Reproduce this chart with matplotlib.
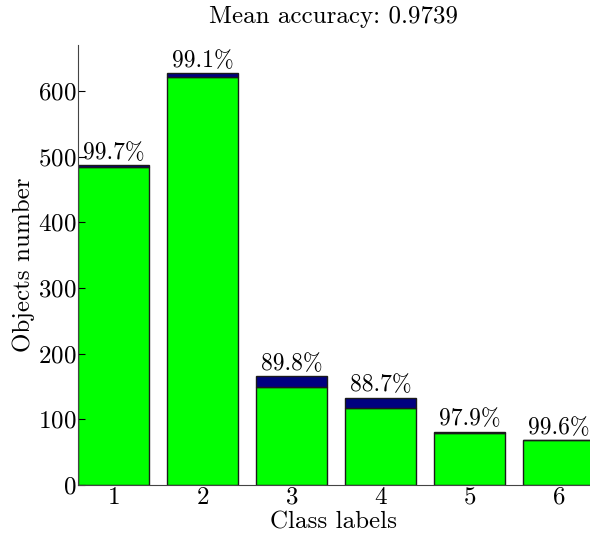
import numpy as np
import matplotlib.pyplot as plt

plt.rcParams['font.family'] = ['cmr10', 'DejaVu Serif']
plt.rcParams['axes.formatter.use_mathtext'] = True

classes = [1, 2, 3, 4, 5, 6]
total = [487, 627, 166, 133, 81, 68]
correct = [485, 621, 149, 118, 79, 68]
acc_labels = ["99.7%", "99.1%", "89.8%", "88.7%", "97.9%", "99.6%"]
mean_acc = 0.9739

wrong = [t - c for t, c in zip(total, correct)]

fig = plt.figure(figsize=(5.9, 5.39), dpi=100)
ax = fig.add_axes([0.132, 0.100, 0.868, 0.8165])

ax.bar(classes, correct, width=0.8, color='#00ff00', edgecolor='#1a1a1a', linewidth=1)
ax.bar(classes, wrong, bottom=correct, width=0.8, color='#000080', edgecolor='#1a1a1a', linewidth=1)

for x, t, lab in zip(classes, total, acc_labels):
    ax.text(x, t + 2, lab, ha='center', va='bottom', fontsize=17)

ax.set_xlim(0.6, 6.35)
ax.set_ylim(0, 670)
ax.set_xticks(classes)
ax.set_yticks(range(0, 700, 100))
ax.tick_params(axis='y', direction='in', length=5, labelsize=18, pad=1)
ax.tick_params(axis='x', length=0, labelsize=18, pad=1)
ax.spines['top'].set_visible(False)
ax.spines['right'].set_visible(False)
ax.spines['left'].set_color('#444444')
ax.spines['bottom'].set_color('#444444')

ax.set_xlabel('Class labels', fontsize=18, labelpad=2)
ax.set_ylabel('Objects number', fontsize=18, labelpad=2)
ax.set_title('Mean accuracy: %.4f' % mean_acc, fontsize=18, pad=16)

fig.savefig('out.png', dpi=100)
